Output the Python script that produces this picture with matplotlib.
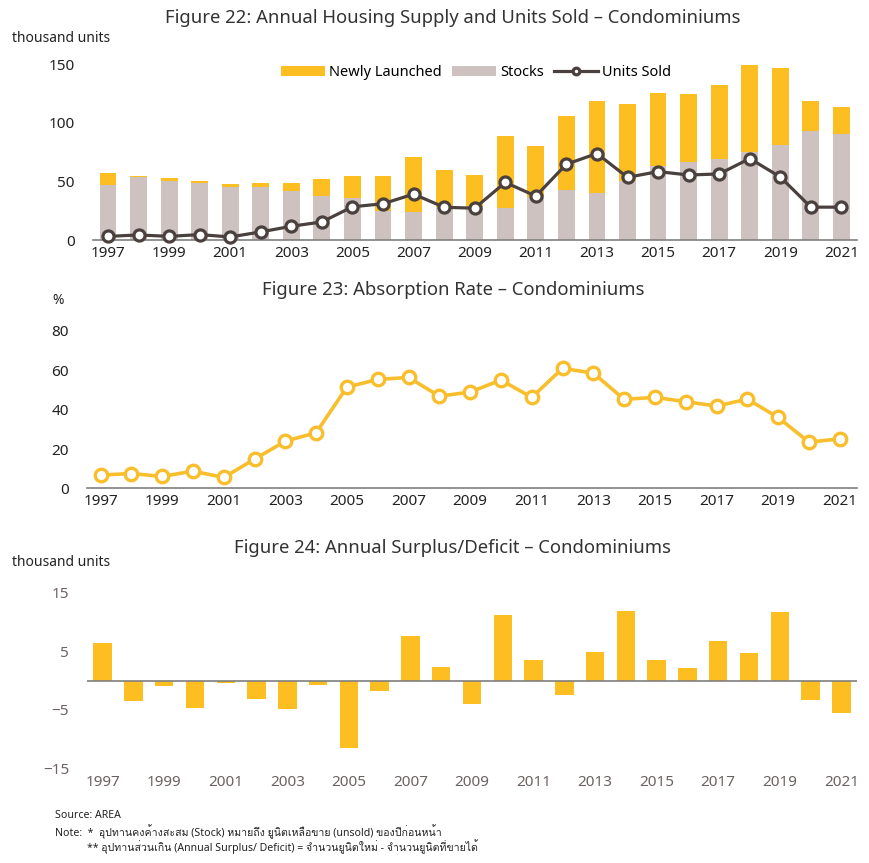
import matplotlib
matplotlib.use("Agg")
import matplotlib.pyplot as plt
from matplotlib import font_manager
from matplotlib.ft2font import FT2Font
import numpy as np

# ---------------- data ----------------
years = list(range(1997, 2022))
stocks = [46.5, 53.5, 50.0, 49.0, 45.4, 44.8, 41.4, 37.7, 36.0, 25.0, 23.7, 28.5,
          28.6, 27.4, 37.0, 42.9, 40.0, 50.0, 62.8, 66.3, 68.8, 75.4, 80.8, 92.8, 90.0]
total_supply = [57.4, 54.8, 52.8, 50.3, 47.4, 49.0, 49.0, 52.0, 54.8, 54.8, 71.0, 60.0,
                55.7, 88.3, 80.3, 105.4, 118.3, 115.7, 125.7, 124.8, 132.0, 149.4, 146.6, 118.3, 113.0]
newly_launched = [t - s for t, s in zip(total_supply, stocks)]
units_sold = [3.1, 4.3, 3.1, 4.6, 2.6, 6.9, 11.7, 15.4, 28.3, 30.9, 39.1, 27.9,
              27.1, 49.1, 37.4, 64.6, 73.7, 53.4, 58.3, 55.4, 56.3, 69.4, 53.7, 28.0, 28.0]
absorption = [6.8, 7.6, 6.1, 8.8, 5.6, 14.9, 24.0, 28.3, 51.4, 55.3, 56.3, 46.8,
              48.9, 55.0, 46.2, 60.9, 58.5, 45.2, 46.2, 44.0, 41.8, 45.3, 36.0, 23.5, 25.2]
surplus = [6.5, -3.5, -0.9, -4.7, -0.35, -3.1, -4.9, -0.75, -11.5, -1.8, 7.6, 2.4,
           -4.0, 11.3, 3.5, -2.5, 4.9, 12.0, 3.6, 2.2, 6.7, 4.7, 11.8, -3.3, -5.6]
tick_years = [str(y) for y in years[::2]]

titles = ["Figure 22: Annual Housing Supply and Units Sold \u2013 Condominiums",
          "Figure 23: Absorption Rate \u2013 Condominiums",
          "Figure 24: Annual Surplus/Deficit \u2013 Condominiums"]
source = "Source: AREA"
note1 = "Note:  *  อุปทานคงค้างสะสม (Stock) หมายถึง ยูนิตเหลือขาย (unsold) ของปีก่อนหน้า"
note2 = "** อุปทานส่วนเกิน (Annual Surplus/ Deficit) = จำนวนยูนิตใหม่ - จำนวนยูนิตที่ขายได้"

# ---------------- fonts ----------------
def find_thai_font():
    for f in font_manager.fontManager.ttflist:
        try:
            ft = FT2Font(f.fname)
            cm = ft.get_charmap()
            if 0x0E2D in cm and 0x0E32 in cm:
                return f.name
        except Exception:
            continue
    return None

thai = find_thai_font()
base = "Noto Sans"
fam = [base] + ([thai] if thai else []) + ["DejaVu Sans"]
plt.rcParams['font.family'] = fam

YEL = "#FDBE21"
GRY = "#CEC2C0"
DRK = "#4A403E"
AXC = "#7F7F7F"
TXT = "#222222"
TXT3 = "#6B6361"

W, H = 870, 863
def rect(l, t, r, b):
    return [l / W, 1 - b / H, (r - l) / W, (b - t) / H]

fig = plt.figure(figsize=(8.7, 8.63), dpi=100)
x = np.arange(len(years))

def style(ax, col, pady):
    for s in ["top", "right", "left"]:
        ax.spines[s].set_visible(False)
    ax.spines["bottom"].set_color(AXC)
    ax.spines["bottom"].set_linewidth(1.2)
    ax.tick_params(length=0, labelsize=11, colors=col)
    ax.tick_params(axis='y', pad=13)
    ax.tick_params(axis='x', pad=pady)
    ax.set_xticks(x[::2])
    ax.set_xticklabels(tick_years)

# ---- chart 1 ----
ax1 = fig.add_axes(rect(92.7, 64, 856.7, 240))
b_st = ax1.bar(x, stocks, width=0.55, color=GRY, zorder=2)
b_nl = ax1.bar(x, newly_launched, width=0.55, bottom=stocks, color=YEL, zorder=2)
ln, = ax1.plot(x, units_sold, color=DRK, lw=2.3, marker='o', ms=8, mfc='white', mec=DRK, mew=2.3,
               zorder=3, clip_on=False)
ax1.set_xlim(-0.5, 24.5)
ax1.set_ylim(0, 150)
ax1.set_yticks([0, 50, 100, 150])
style(ax1, TXT, 4)
leg = ax1.legend([b_nl, b_st, ln], ["Newly Launched", "Stocks", "Units Sold"], ncol=3, frameon=False,
                 loc='center', bbox_to_anchor=(476 / W, 1 - 73 / H), bbox_transform=fig.transFigure,
                 fontsize=10.5, handlelength=3.0, handletextpad=0.3, columnspacing=0.7,
                 handleheight=0.7, markerscale=0.6)
fig.text(12 / W, 1 - 39 / H, "thousand units", fontsize=10, color=TXT, va='center', ha='left')

# ---- chart 2 ----
ax2 = fig.add_axes(rect(86.7, 330.7, 856.7, 488.5))
ax2.plot(x, absorption, color="#F9BE2C", lw=2.6, marker='o', ms=9, mfc='white', mec="#F9BE2C",
         mew=2.4, zorder=3, clip_on=False)
ax2.set_xlim(-0.45, 24.55)
ax2.set_ylim(0, 80)
ax2.set_yticks([0, 20, 40, 60, 80])
style(ax2, TXT, 4)
fig.text(58 / W, 1 - 300 / H, "%", fontsize=10, color=TXT, va='center', ha='center')

# ---- chart 3 ----
ax3 = fig.add_axes(rect(87.3, 593, 856.7, 768))
ax3.bar(x, surplus, width=0.6, color=YEL, zorder=2)
ax3.axhline(0, color=AXC, lw=1.2, zorder=3)
ax3.set_xlim(-0.5, 24.5)
ax3.set_ylim(-15, 15)
ax3.set_yticks([-15, -5, 5, 15])
style(ax3, TXT3, 5)
ax3.spines["bottom"].set_visible(False)
fig.text(12 / W, 1 - 562 / H, "thousand units", fontsize=10, color=TXT, va='center', ha='left')

# ---- titles ----
for t, yy in zip(titles, [18, 290, 548]):
    fig.text(453 / W, 1 - yy / H, t, fontsize=13.3, color="#333333", ha='center', va='center')

# ---- footer ----
fig.text(55 / W, 1 - 815 / H, source, fontsize=7.6, color=TXT, va='center')
fig.text(55 / W, 1 - 832 / H, note1, fontsize=7.6, color=TXT, va='center')
fig.text(87 / W, 1 - 847 / H, note2, fontsize=7.6, color=TXT, va='center')

fig.savefig("out.png", dpi=100)
